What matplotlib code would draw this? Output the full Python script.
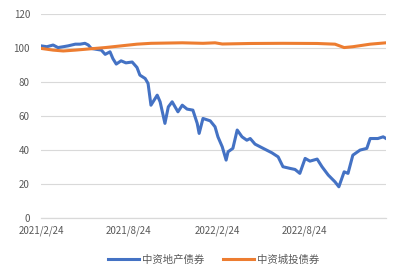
import matplotlib
matplotlib.use("Agg")
import matplotlib.pyplot as plt
import pandas as pd

plt.rcParams['font.family'] = ['Noto Sans CJK SC', 'DejaVu Sans']

# 中资地产债券
prop_dates = ["2021-02-24", "2021-03-08", "2021-03-21", "2021-03-31", "2021-04-11", "2021-04-21",
              "2021-05-06", "2021-05-16", "2021-05-26", "2021-06-02", "2021-06-08", "2021-06-18",
              "2021-06-29", "2021-07-07", "2021-07-17", "2021-07-23", "2021-07-30", "2021-08-09",
              "2021-08-19", "2021-09-01", "2021-09-11", "2021-09-17", "2021-09-28", "2021-10-04",
              "2021-10-10", "2021-10-23", "2021-10-29", "2021-11-08", "2021-11-15", "2021-11-23",
              "2021-12-05", "2021-12-14", "2021-12-24", "2022-01-05", "2022-01-14", "2022-01-18",
              "2022-01-26", "2022-02-10", "2022-02-20", "2022-02-26", "2022-03-07", "2022-03-15",
              "2022-03-19", "2022-03-29", "2022-04-07", "2022-04-17", "2022-04-27", "2022-05-04",
              "2022-05-14", "2022-05-31", "2022-06-18", "2022-07-01", "2022-07-11", "2022-07-26",
              "2022-08-05", "2022-08-15", "2022-08-26", "2022-09-05", "2022-09-20", "2022-09-30",
              "2022-10-13", "2022-10-27", "2022-11-04", "2022-11-15", "2022-11-23", "2022-12-03",
              "2022-12-18", "2023-01-01", "2023-01-08", "2023-01-24", "2023-02-04", "2023-02-10"]
prop_vals = [101.5, 101, 102, 100.5, 101, 101.5,
             102.5, 102.5, 103, 102, 100, 99.5,
             99, 96.5, 98, 94, 90.8, 92.7,
             91.5, 92, 88.8, 84.3, 82.3, 79.4,
             66.6, 72.5, 68.6, 55.9, 65.6, 68.6,
             62.7, 66.6, 64.3, 63.7, 55.9, 50,
             58.8, 57.4, 53.9, 48, 42.1, 34.3,
             39.2, 41.2, 52, 48, 46, 47,
             43.7, 41.2, 38.6, 36.2, 30.4, 29.4,
             28.8, 26.5, 35.3, 33.7, 34.9, 30.4,
             25.5, 21.5, 18.6, 27.4, 26.5, 37.2,
             40.2, 41.2, 47, 47, 48, 47]

# 中资城投债券
lgfv_dates = ["2021-02-24", "2021-03-21", "2021-04-11", "2021-05-06", "2021-06-08", "2021-07-07",
              "2021-08-09", "2021-09-11", "2021-10-10", "2021-12-14", "2022-01-26", "2022-02-20",
              "2022-03-07", "2022-05-04", "2022-07-11", "2022-09-20", "2022-10-27", "2022-11-15",
              "2022-12-03", "2023-01-08", "2023-02-10"]
lgfv_vals = [100, 99, 98.5, 99, 99.8, 100.5,
             101.5, 102.5, 103, 103.3, 103, 103.3,
             102.6, 102.9, 103, 102.9, 102.5, 100.5,
             101, 102.5, 103.3]

tick_dates = ["2021-02-24", "2021-08-24", "2022-02-24", "2022-08-24"]
tick_labels = ["2021/2/24", "2021/8/24", "2022/2/24", "2022/8/24"]

x1 = pd.to_datetime(prop_dates)
x2 = pd.to_datetime(lgfv_dates)

fig = plt.figure(figsize=(4.03, 2.72), dpi=100)
ax = fig.add_axes([0.102, 0.197, 0.856, 0.75])

ax.plot(x1, prop_vals, color="#4472C4", lw=2.2, label="中资地产债券", zorder=3)
ax.plot(x2, lgfv_vals, color="#ED7D31", lw=2.2, label="中资城投债券", zorder=3)

ax.set_ylim(0, 120)
ax.set_yticks(range(0, 121, 20))
ax.set_xlim(x1[0], x1[-1])
ax.set_xticks(pd.to_datetime(tick_dates))
ax.set_xticklabels(tick_labels)

ax.grid(axis="y", color="#D9D9D9", lw=0.8)
ax.set_axisbelow(True)
for s in ["top", "right", "left"]:
    ax.spines[s].set_visible(False)
ax.spines["bottom"].set_color("#D9D9D9")
ax.spines["bottom"].set_linewidth(0.9)
ax.tick_params(axis="both", length=0, labelsize=7, labelcolor="#595959")
ax.tick_params(axis="y", pad=8)
ax.tick_params(axis="x", pad=5)

ax.legend(loc="upper center", bbox_to_anchor=(0.5, -0.13), ncol=2, frameon=False,
          fontsize=7.5, handlelength=3, handletextpad=0.3, columnspacing=1.8,
          labelcolor="#595959")

fig.savefig("out.png", dpi=100)
